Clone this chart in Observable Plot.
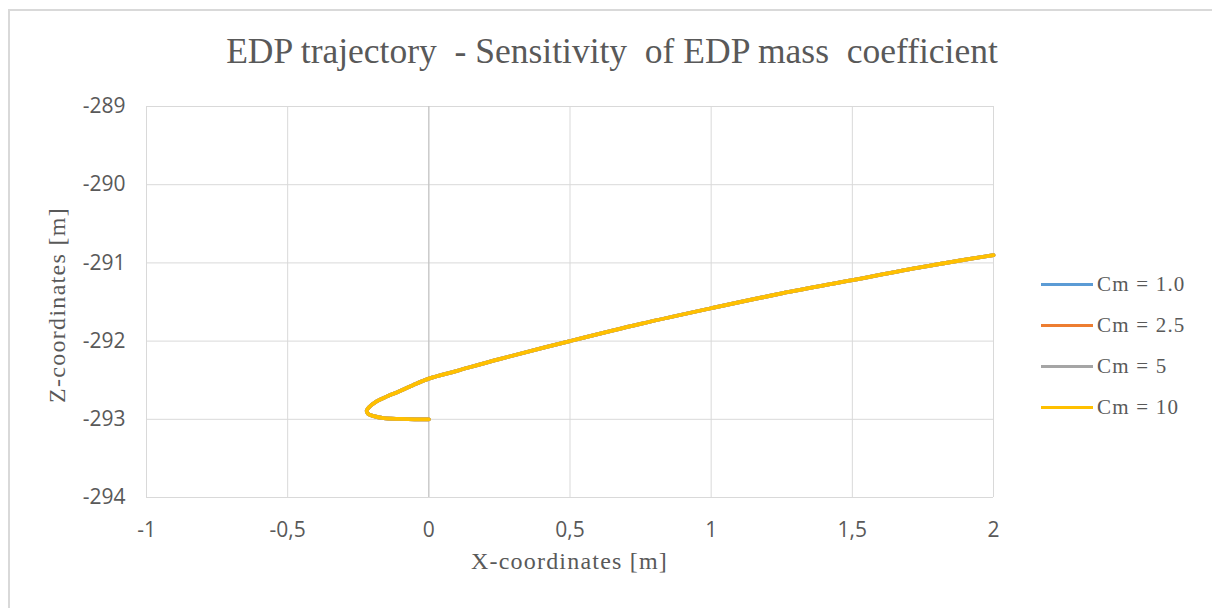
<!DOCTYPE html>
<html>
<head>
<meta charset="utf-8">
<script src="https://cdn.jsdelivr.net/npm/d3@7"></script>
<script src="https://cdn.jsdelivr.net/npm/@observablehq/plot@0.6"></script>
<style>
  html, body { margin: 0; padding: 0; background: #fff; }
  #chart { position: relative; width: 1212px; height: 608px; overflow: hidden; }
  #frame { position: absolute; left: 8px; top: 9px; width: 1220px; height: 620px;
           border: 2px solid #d9d9d9; box-sizing: border-box; }
  .serif { font-family: "Liberation Serif", "DejaVu Serif", serif; color: #595959; }
  #title { position: absolute; left: 0; width: 1224px; top: 30px; text-align: center;
           font-size: 35.5px; white-space: pre; }
  #xtitle { position: absolute; left: 146px; width: 847px; top: 548px; text-align: center;
            font-size: 24px; letter-spacing: 1.2px; }
  #ytitle { position: absolute; left: 57px; top: 305px; font-size: 24px; letter-spacing: 1.3px; white-space: nowrap;
            transform: translate(-50%, -50%) rotate(-90deg); }
  #legend { position: absolute; left: 1041px; top: 264px; }
  .item { display: flex; align-items: center; height: 41px; font-size: 21px; letter-spacing: 1.2px; }
  .swatch { width: 52px; height: 3.5px; margin-right: 4px; }
  #plot { position: absolute; left: 0; top: 0; }
  #plot svg text { font-size: 21px !important; }
</style>
</head>
<body>
<div id="chart">
  <div id="frame"></div>
  <div id="plot"></div>
  <div id="title" class="serif"></div>
  <div id="xtitle" class="serif"></div>
  <div id="ytitle" class="serif"></div>
  <div id="legend" class="serif"></div>
</div>
<script>
// Trajectory of the EDP in the X–Z plane (metres). The four mass-coefficient
// runs give the same path, so they share one set of coordinates.
const seriesNames = ["Cm = 1.0", "Cm = 2.5", "Cm = 5", "Cm = 10"];
const seriesColors = ["#5B9BD5", "#ED7D31", "#A5A5A5", "#FFC000"];
const xCoord = [0, -0.05, -0.10, -0.16, -0.195, -0.215, -0.22, -0.21, -0.185, -0.15, -0.11, -0.06, 0,
                0.1, 0.25, 0.5, 0.75, 1.0, 1.25, 1.5, 1.75, 2.0];
const zCoord = [-293.0, -293.0, -292.995, -292.985, -292.96, -292.93, -292.89, -292.84, -292.77, -292.71,
                -292.65, -292.57, -292.48, -292.38, -292.23, -292.0, -291.78, -291.58, -291.39, -291.22,
                -291.05, -290.9];
const xTicks = [-1, -0.5, 0, 0.5, 1, 1.5, 2];
const zTicks = [-294, -293, -292, -291, -290, -289];

const titleText = "EDP trajectory  - Sensitivity  of EDP mass  coefficient";
const xLabel = "X-coordinates [m]";
const zLabel = "Z-coordinates [m]";

// Long table: one row per point per series
const rows = seriesNames.flatMap((s) => xCoord.map((x, i) => ({series: s, x, z: zCoord[i]})));

// Decimal comma and plain hyphen for negatives
const fmt = (v) => String(v).replace(".", ",");

const plot = Plot.plot({
  width: 1212,
  height: 608,
  marginLeft: 146,
  marginRight: 219,
  marginTop: 106,
  marginBottom: 111,
  style: {background: "transparent", fontFamily: "'Open Sans', sans-serif", fontSize: "21px", color: "#595959"},
  x: {domain: [-1, 2], ticks: xTicks, tickFormat: fmt},
  y: {domain: [-294, -289], ticks: zTicks, tickFormat: fmt},
  color: {domain: seriesNames, range: seriesColors},
  marks: [
    Plot.gridX(xTicks, {stroke: "#d9d9d9", strokeOpacity: 1, strokeWidth: 1}),
    Plot.gridY(zTicks, {stroke: "#d9d9d9", strokeOpacity: 1, strokeWidth: 1}),
    Plot.ruleX([0], {stroke: "#bfbfbf", strokeWidth: 1}),
    Plot.axisX(xTicks, {tickSize: 0, tickPadding: 25, label: null, fill: "#595959", tickFormat: fmt}),
    Plot.axisY(zTicks, {tickSize: 0, tickPadding: 21, label: null, fill: "#595959", tickFormat: fmt}),
    Plot.line(rows, {x: "x", y: "z", z: "series", stroke: "series", strokeWidth: 3.8, curve: "catmull-rom"})
  ]
});
document.getElementById("plot").appendChild(plot);

document.getElementById("title").textContent = titleText;
document.getElementById("xtitle").textContent = xLabel;
document.getElementById("ytitle").textContent = zLabel;

const legend = document.getElementById("legend");
seriesNames.forEach((name, i) => {
  const item = document.createElement("div");
  item.className = "item";
  const sw = document.createElement("div");
  sw.className = "swatch";
  sw.style.background = seriesColors[i];
  const label = document.createElement("span");
  label.textContent = name;
  item.appendChild(sw);
  item.appendChild(label);
  legend.appendChild(item);
});
</script>
</body>
</html>
